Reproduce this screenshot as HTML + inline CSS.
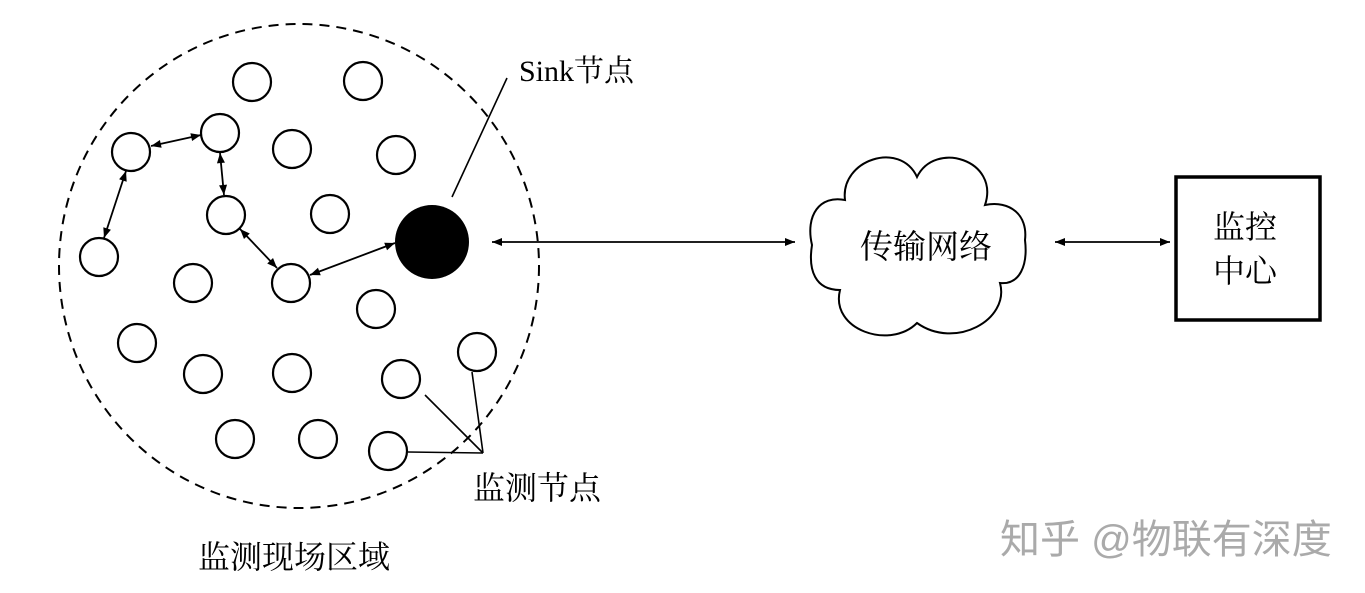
<!DOCTYPE html>
<html><head><meta charset="utf-8"><style>
html,body{margin:0;padding:0;background:#fff;}
svg{display:block;}
.t{font-family:"Liberation Serif","Noto Serif CJK SC",serif;fill:#000;}
</style></head><body>
<svg width="1365" height="593" viewBox="0 0 1365 593" xmlns="http://www.w3.org/2000/svg">
<defs>
<marker id="a" viewBox="0 0 10 10" refX="10" refY="5" markerWidth="16" markerHeight="10" markerUnits="userSpaceOnUse" orient="auto-start-reverse">
<path d="M0,1 L10,5 L0,9 Z" fill="#000"/></marker>
</defs>
<ellipse cx="299" cy="266" rx="240" ry="242" fill="none" stroke="#000" stroke-width="2" stroke-dasharray="10,7"/>
<g fill="#fff" stroke="#000" stroke-width="2.2">
<circle cx="252" cy="82" r="19"/><circle cx="363" cy="81" r="19"/>
<circle cx="131" cy="152" r="19"/><circle cx="220" cy="133" r="19"/>
<circle cx="292" cy="149" r="19"/><circle cx="396" cy="155" r="19"/>
<circle cx="226" cy="215" r="19"/><circle cx="330" cy="214" r="19"/>
<circle cx="99" cy="257" r="19"/><circle cx="193" cy="283" r="19"/>
<circle cx="291" cy="283" r="19"/><circle cx="376" cy="309" r="19"/>
<circle cx="137" cy="343" r="19"/><circle cx="203" cy="374" r="19"/>
<circle cx="292" cy="373" r="19"/><circle cx="401" cy="379" r="19"/>
<circle cx="477" cy="352" r="19"/><circle cx="235" cy="439" r="19"/>
<circle cx="318" cy="439" r="19"/><circle cx="388" cy="451" r="19"/>
</g>
<circle cx="432" cy="242" r="37" fill="#000"/>
<g stroke="#000" stroke-width="1.8" fill="none" marker-start="url(#a)" marker-end="url(#a)">
<line x1="151" y1="146" x2="201" y2="135"/>
<line x1="126" y1="171" x2="104" y2="238"/>
<line x1="220" y1="153" x2="224" y2="195"/>
<line x1="240" y1="229" x2="277" y2="268"/>
<line x1="310" y1="275" x2="395" y2="243"/>
<line x1="492" y1="242" x2="795" y2="242"/>
<line x1="1055" y1="242" x2="1170" y2="242"/>
</g>
<g stroke="#000" stroke-width="1.6">
<line x1="507" y1="78" x2="452" y2="197"/>
<line x1="425" y1="395" x2="483" y2="453"/>
<line x1="472" y1="372" x2="483" y2="453"/>
<line x1="408" y1="452" x2="483" y2="453"/>
</g>
<path d="M845,200 C840,160 900,140 917,177 C935,140 1000,160 985,205 C1010,200 1028,215 1025,240 C1028,265 1020,285 1000,283 C1010,320 955,350 917,323 C890,350 830,330 840,290 C815,290 808,270 812,245 C805,215 820,195 845,200 Z" fill="#fff" stroke="#000" stroke-width="2"/>
<rect x="1176" y="177" width="144" height="143" fill="#fff" stroke="#000" stroke-width="3.5"/>
<text class="t" x="519" y="81" font-size="30">Sink节点</text>
<text class="t" x="860" y="258" font-size="33">传输网络</text>
<text class="t" x="1213" y="238" font-size="32">监控</text>
<text class="t" x="1213" y="282" font-size="32">中心</text>
<text class="t" x="473" y="499" font-size="32">监测节点</text>
<text class="t" x="198" y="568" font-size="32">监测现场区域</text>
<text x="1000" y="553" font-size="40" fill="#aaa" font-family="'Liberation Sans','Noto Sans CJK SC',sans-serif">知乎 @物联有深度</text>
</svg>
</body></html>
